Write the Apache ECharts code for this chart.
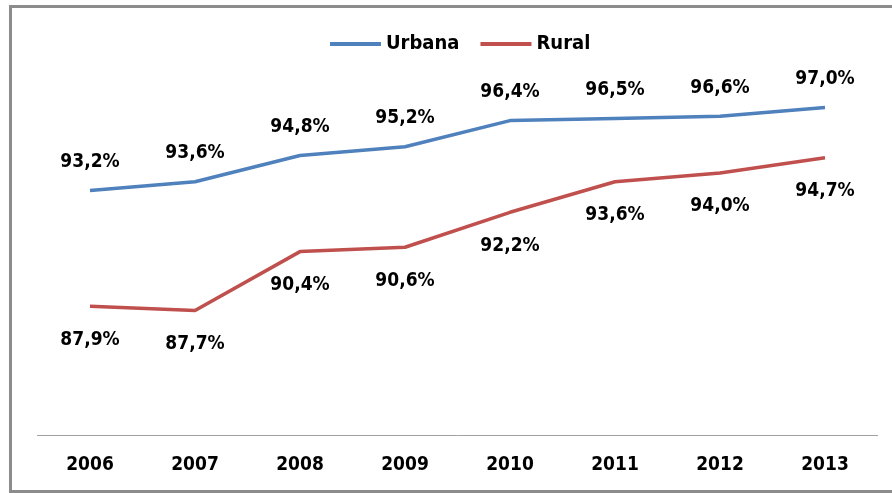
<!DOCTYPE html>
<html>
<head>
<meta charset="utf-8">
<script src="https://cdn.jsdelivr.net/npm/echarts@6/dist/echarts.min.js"></script>
<style>
    html, body { margin: 0; padding: 0; background: #fff; }
    #chart { width: 892px; height: 493px; }
    /* moldura cinza do gráfico original */
    .frame {
        position: absolute;
        left: 9px;
        top: 5px;
        width: 900px;
        height: 482px;
        border: 3px solid #8c8c8c;
        border-right: none;
        pointer-events: none;
    }
</style>
</head>
<body>
<div id="chart"></div>
<div class="frame"></div>
<script>
// dados
const anos = ['2006', '2007', '2008', '2009', '2010', '2011', '2012', '2013']
const urbana = [93.2, 93.6, 94.8, 95.2, 96.4, 96.5, 96.6, 97.0]
const rural = [87.9, 87.7, 90.4, 90.6, 92.2, 93.6, 94.0, 94.7]

const fonte = '"DejaVu Sans Condensed", "DejaVu Sans", sans-serif'
const fmt = p => p.value.toFixed(1).replace('.', ',') + '%'

let chart = echarts.init(document.getElementById('chart'))

const rotulo = {
    show: true,
    formatter: fmt,
    fontFamily: fonte,
    fontWeight: 'bold',
    fontSize: 19,
    color: '#000'
}

chart.setOption({
    animation: false,
    textStyle: { fontFamily: fonte },
    legend: {
        top: 29,
        left: 325,
        itemWidth: 51,
        itemHeight: 4,
        itemGap: 21,
        icon: 'rect',
        textStyle: { fontFamily: fonte, fontWeight: 'bold', fontSize: 20, color: '#000' },
        data: ['Urbana', 'Rural']
    },
    grid: {
        left: 37.5,
        right: 14.5,
        top: 42,
        bottom: 58
    },
    xAxis: {
        type: 'category',
        data: anos,
        boundaryGap: true,
        axisLine: { lineStyle: { color: '#a0a0a0', width: 1 } },
        axisTick: { show: false },
        axisLabel: {
            margin: 21,
            fontFamily: fonte,
            fontWeight: 'bold',
            fontSize: 19,
            color: '#000'
        }
    },
    yAxis: {
        type: 'value',
        min: 82,
        max: 100,
        show: false,
        splitLine: { show: false }
    },
    series: [
        {
            name: 'Urbana',
            type: 'line',
            data: urbana,
            symbol: 'circle',
            symbolSize: 0,
            lineStyle: { color: '#4f81bd', width: 3.5 },
            itemStyle: { color: '#4f81bd' },
            label: Object.assign({}, rotulo, { position: 'top', distance: 19 })
        },
        {
            name: 'Rural',
            type: 'line',
            data: rural,
            symbol: 'circle',
            symbolSize: 0,
            lineStyle: { color: '#c0504d', width: 3.5 },
            itemStyle: { color: '#c0504d' },
            label: Object.assign({}, rotulo, { position: 'bottom', distance: 24 })
        }
    ]
})
</script>
</body>
</html>
